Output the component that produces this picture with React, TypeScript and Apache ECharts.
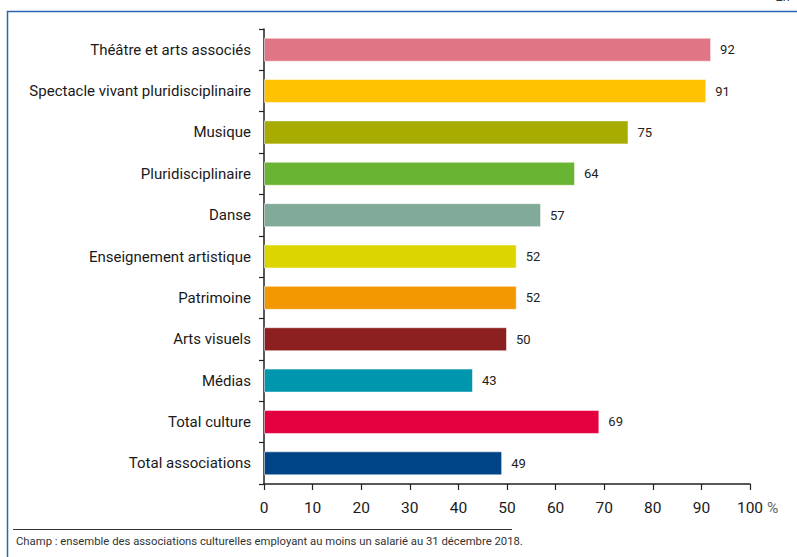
import React, { useEffect, useRef } from "react";
import * as echarts from "echarts";

const categories = [
  "Théâtre et arts associés",
  "Spectacle vivant pluridisciplinaire",
  "Musique",
  "Pluridisciplinaire",
  "Danse",
  "Enseignement artistique",
  "Patrimoine",
  "Arts visuels",
  "Médias",
  "Total culture",
  "Total associations",
];
const values = [92, 91, 75, 64, 57, 52, 52, 50, 43, 69, 49];
const colors = [
  "#E07585",
  "#FFC100",
  "#A8AB00",
  "#6AB433",
  "#82AA98",
  "#DDD500",
  "#F39800",
  "#8C1F20",
  "#0097AE",
  "#E4003F",
  "#004488",
];
const xTicks = [0, 10, 20, 30, 40, 50, 60, 70, 80, 90, 100];
const footnote = "Champ : ensemble des associations culturelles employant au moins un salarié au 31 décembre 2018.";
const unitLabel = "En %";

const FONT = "Roboto, 'Liberation Sans Narrow', sans-serif";

export default function App() {
  const ref = useRef<HTMLDivElement>(null);
  useEffect(() => {
    if (!ref.current) return;
    const chart = echarts.init(ref.current, null, { renderer: "svg" });
    chart.setOption({
      animation: false,
      backgroundColor: "#ffffff",
      textStyle: { fontFamily: FONT },
      grid: { left: 264, right: 47, top: 29, bottom: 73, containLabel: false },
      xAxis: {
        type: "value",
        min: xTicks[0],
        max: xTicks[xTicks.length - 1],
        interval: 10,
        axisLine: { show: true, lineStyle: { color: "#222", width: 1.5 } },
        axisTick: { show: true, length: 6, lineStyle: { color: "#222", width: 1.2 } },
        axisLabel: { color: "#1a1a1a", fontSize: 15.5, margin: 16, fontFamily: FONT },
        splitLine: { show: false },
      },
      yAxis: {
        type: "category",
        data: categories,
        inverse: true,
        axisLine: { show: true, lineStyle: { color: "#222", width: 1.5 } },
        axisTick: { show: true, length: 5, lineStyle: { color: "#222", width: 1.2 } },
        axisLabel: { color: "#1a1a1a", fontSize: 15, margin: 13, fontFamily: FONT },
      },
      series: [
        {
          type: "bar",
          barWidth: 24,
          data: values.map((v, i) => ({
            value: v,
            itemStyle: { color: colors[i], borderColor: "rgba(255,255,255,0.5)", borderWidth: 1 },
          })),
          label: {
            show: true,
            position: "right",
            distance: 9,
            color: "#222",
            fontSize: 13,
            fontFamily: FONT,
          },
        },
      ],
      graphic: [
        {
          type: "rect",
          shape: { x: 7.5, y: 11.5, width: 900, height: 700 },
          style: { fill: "none", stroke: "#2E64B0", lineWidth: 1.5 },
          silent: true,
          z: -1,
        },
        {
          type: "text",
          left: 767,
          top: 500,
          style: { text: "%", fontSize: 15.5, fill: "#666", fontFamily: FONT },
        },
        {
          type: "line",
          shape: { x1: 13, y1: 529.5, x2: 512, y2: 529.5 },
          style: { stroke: "#333", lineWidth: 1 },
        },
        {
          type: "text",
          left: 16,
          top: 536,
          style: { text: footnote, fontSize: 11.3, fill: "#333", fontFamily: FONT },
        },
        {
          type: "text",
          left: 776,
          top: -10,
          style: { text: unitLabel, fontSize: 13, fontStyle: "italic", fill: "#333", fontFamily: FONT },
        },
      ],
    });
    return () => chart.dispose();
  }, []);
  return (
    <div
      ref={ref}
      style={{ position: "absolute", left: 0, top: 0, width: 797, height: 557 }}
    />
  );
}
